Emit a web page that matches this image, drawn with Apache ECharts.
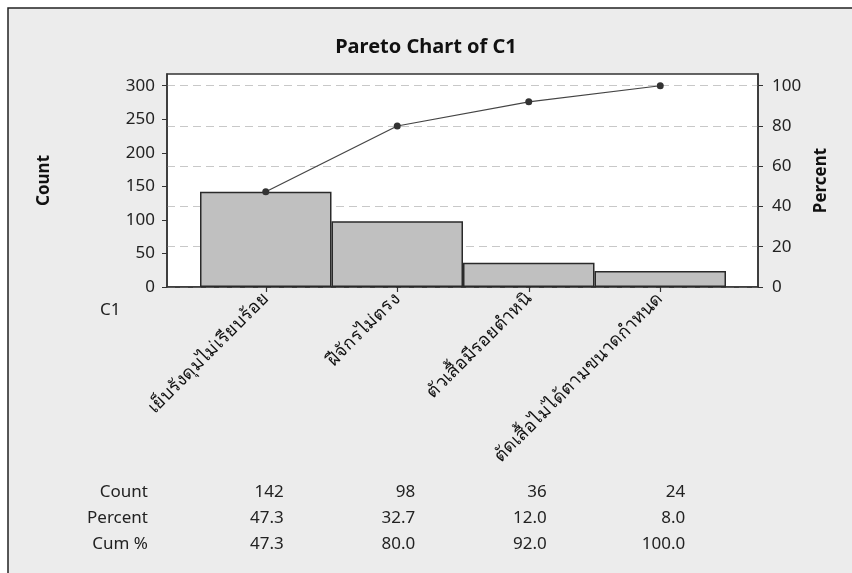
<!DOCTYPE html>
<html><head><meta charset="utf-8">
<script src="https://cdn.jsdelivr.net/npm/echarts@6/dist/echarts.min.js"></script>
<style>html,body{margin:0;padding:0;background:#fff;}#c{width:852px;height:573px;}</style>
</head><body><div id="c"></div>
<script>
const categories = ['เย็บรังดุมไม่เรียบร้อย', 'ฝีจักรไม่ตรง', 'ตัวเสื้อมีรอยตำหนิ', 'ตัดเสื้อไม่ได้ตามขนาดกำหนด'];
const counts = [142, 98, 36, 24];
const percents = [47.3, 32.7, 12.0, 8.0];
const cumPercents = [47.3, 80.0, 92.0, 100.0];
const countTicks = [0, 50, 100, 150, 200, 250, 300];
const percentTicks = [0, 20, 40, 60, 80, 100];
const tableRows = ['Count', 'Percent', 'Cum %'];

const total = counts.reduce((a, b) => a + b, 0);
const countMax = total * 317.5 / 300;
const pctMax = 100 * 317.5 / 300;

const FONT = 'Noto Sans';
const chart = echarts.init(document.getElementById('c'), null, {renderer: 'canvas'});

const option = {
  backgroundColor: 'transparent',
  animation: false,
  title: {
    text: 'Pareto Chart of C1', left: 'center', top: 32,
    textStyle: {fontFamily: FONT, fontSize: 20, fontWeight: 'bold', color: '#111'}
  },
  grid: [
    {left: 167, top: 74, width: 591, height: 213, show: true, backgroundColor: '#fff', borderColor: '#333', borderWidth: 1.5},
    {left: 200, top: 74, width: 526, height: 213}
  ],
  xAxis: [
    {gridIndex: 0, type: 'value', min: 0, max: 1, axisLine: {show: true, lineStyle: {color: '#333', width: 1.5}},
     axisTick: {show: false}, axisLabel: {show: false}, splitLine: {show: false}},
    {gridIndex: 1, type: 'category', data: categories, boundaryGap: true,
     axisLine: {show: false},
     axisTick: {show: true, alignWithLabel: true, length: 5, lineStyle: {color: '#333', width: 1.2}},
     axisLabel: {rotate: 45, fontFamily: FONT, fontSize: 18, color: '#111', margin: 9, interval: 0}}
  ],
  yAxis: [
    {gridIndex: 0, type: 'value', position: 'left', min: 0, max: countMax,
     name: 'Count', nameLocation: 'middle', nameGap: 114, nameRotate: 90,
     nameTextStyle: {fontFamily: FONT, fontSize: 17, fontWeight: 'bold', color: '#111'},
     axisLine: {show: true, lineStyle: {color: '#333', width: 1.5}},
     axisTick: {show: true, length: 5, customValues: countTicks, lineStyle: {color: '#333'}},
     axisLabel: {customValues: countTicks, fontFamily: FONT, fontSize: 17, color: '#222', margin: 12},
     splitLine: {show: false}},
    {gridIndex: 0, type: 'value', position: 'right', min: 0, max: pctMax, interval: 20,
     name: 'Percent', nameLocation: 'middle', nameGap: 55, nameRotate: 90,
     nameTextStyle: {fontFamily: FONT, fontSize: 17, fontWeight: 'bold', color: '#111'},
     axisLine: {show: true, lineStyle: {color: '#333', width: 1.5}},
     axisTick: {show: true, length: 5, customValues: percentTicks, lineStyle: {color: '#333'}},
     axisLabel: {customValues: percentTicks, fontFamily: FONT, fontSize: 17, color: '#222', margin: 14},
     splitLine: {show: true, lineStyle: {color: '#c8c8c8', type: [8, 5], width: 1}}},
    {gridIndex: 1, type: 'value', min: 0, max: countMax, show: false},
    {gridIndex: 1, type: 'value', min: 0, max: pctMax, show: false}
  ],
  series: [
    {type: 'bar', xAxisIndex: 1, yAxisIndex: 2, data: counts, barWidth: '100%', barCategoryGap: '0%',
     itemStyle: {color: '#c0c0c0', borderColor: '#2a2a2a', borderWidth: 1.5}},
    {type: 'line', xAxisIndex: 1, yAxisIndex: 3, data: cumPercents, symbol: 'circle', symbolSize: 7,
     lineStyle: {color: '#444', width: 1.2}, itemStyle: {color: '#333'}}
  ],
  graphic: []
};
chart.setOption(option);

// table & labels placed using library-computed category positions
const font = '17px "' + FONT + '"';
const g = [
  {type: 'rect', z: -100, shape: {x: 8, y: 8, width: 900, height: 700},
   style: {fill: '#ececec', stroke: '#222', lineWidth: 1.5}},
  {type: 'text', x: 100, y: 310, style: {text: 'C1', font: font, fill: '#222', verticalAlign: 'middle'}}
];
const rowY = [492, 518, 544];
const colOffset = [18, 18, 18, 25];
const rowVals = [counts.map(String), percents.map(v => v.toFixed(1)), cumPercents.map(v => v.toFixed(1))];
tableRows.forEach((name, r) => {
  g.push({type: 'text', x: 148, y: rowY[r], style: {text: name, font: font, fill: '#222', align: 'right', verticalAlign: 'middle'}});
  categories.forEach((c, i) => {
    const px = chart.convertToPixel({xAxisIndex: 1}, c);
    g.push({type: 'text', x: px + colOffset[i], y: rowY[r], style: {text: rowVals[r][i], font: font, fill: '#222', align: 'right', verticalAlign: 'middle'}});
  });
});
chart.setOption({graphic: g});
</script></body></html>
